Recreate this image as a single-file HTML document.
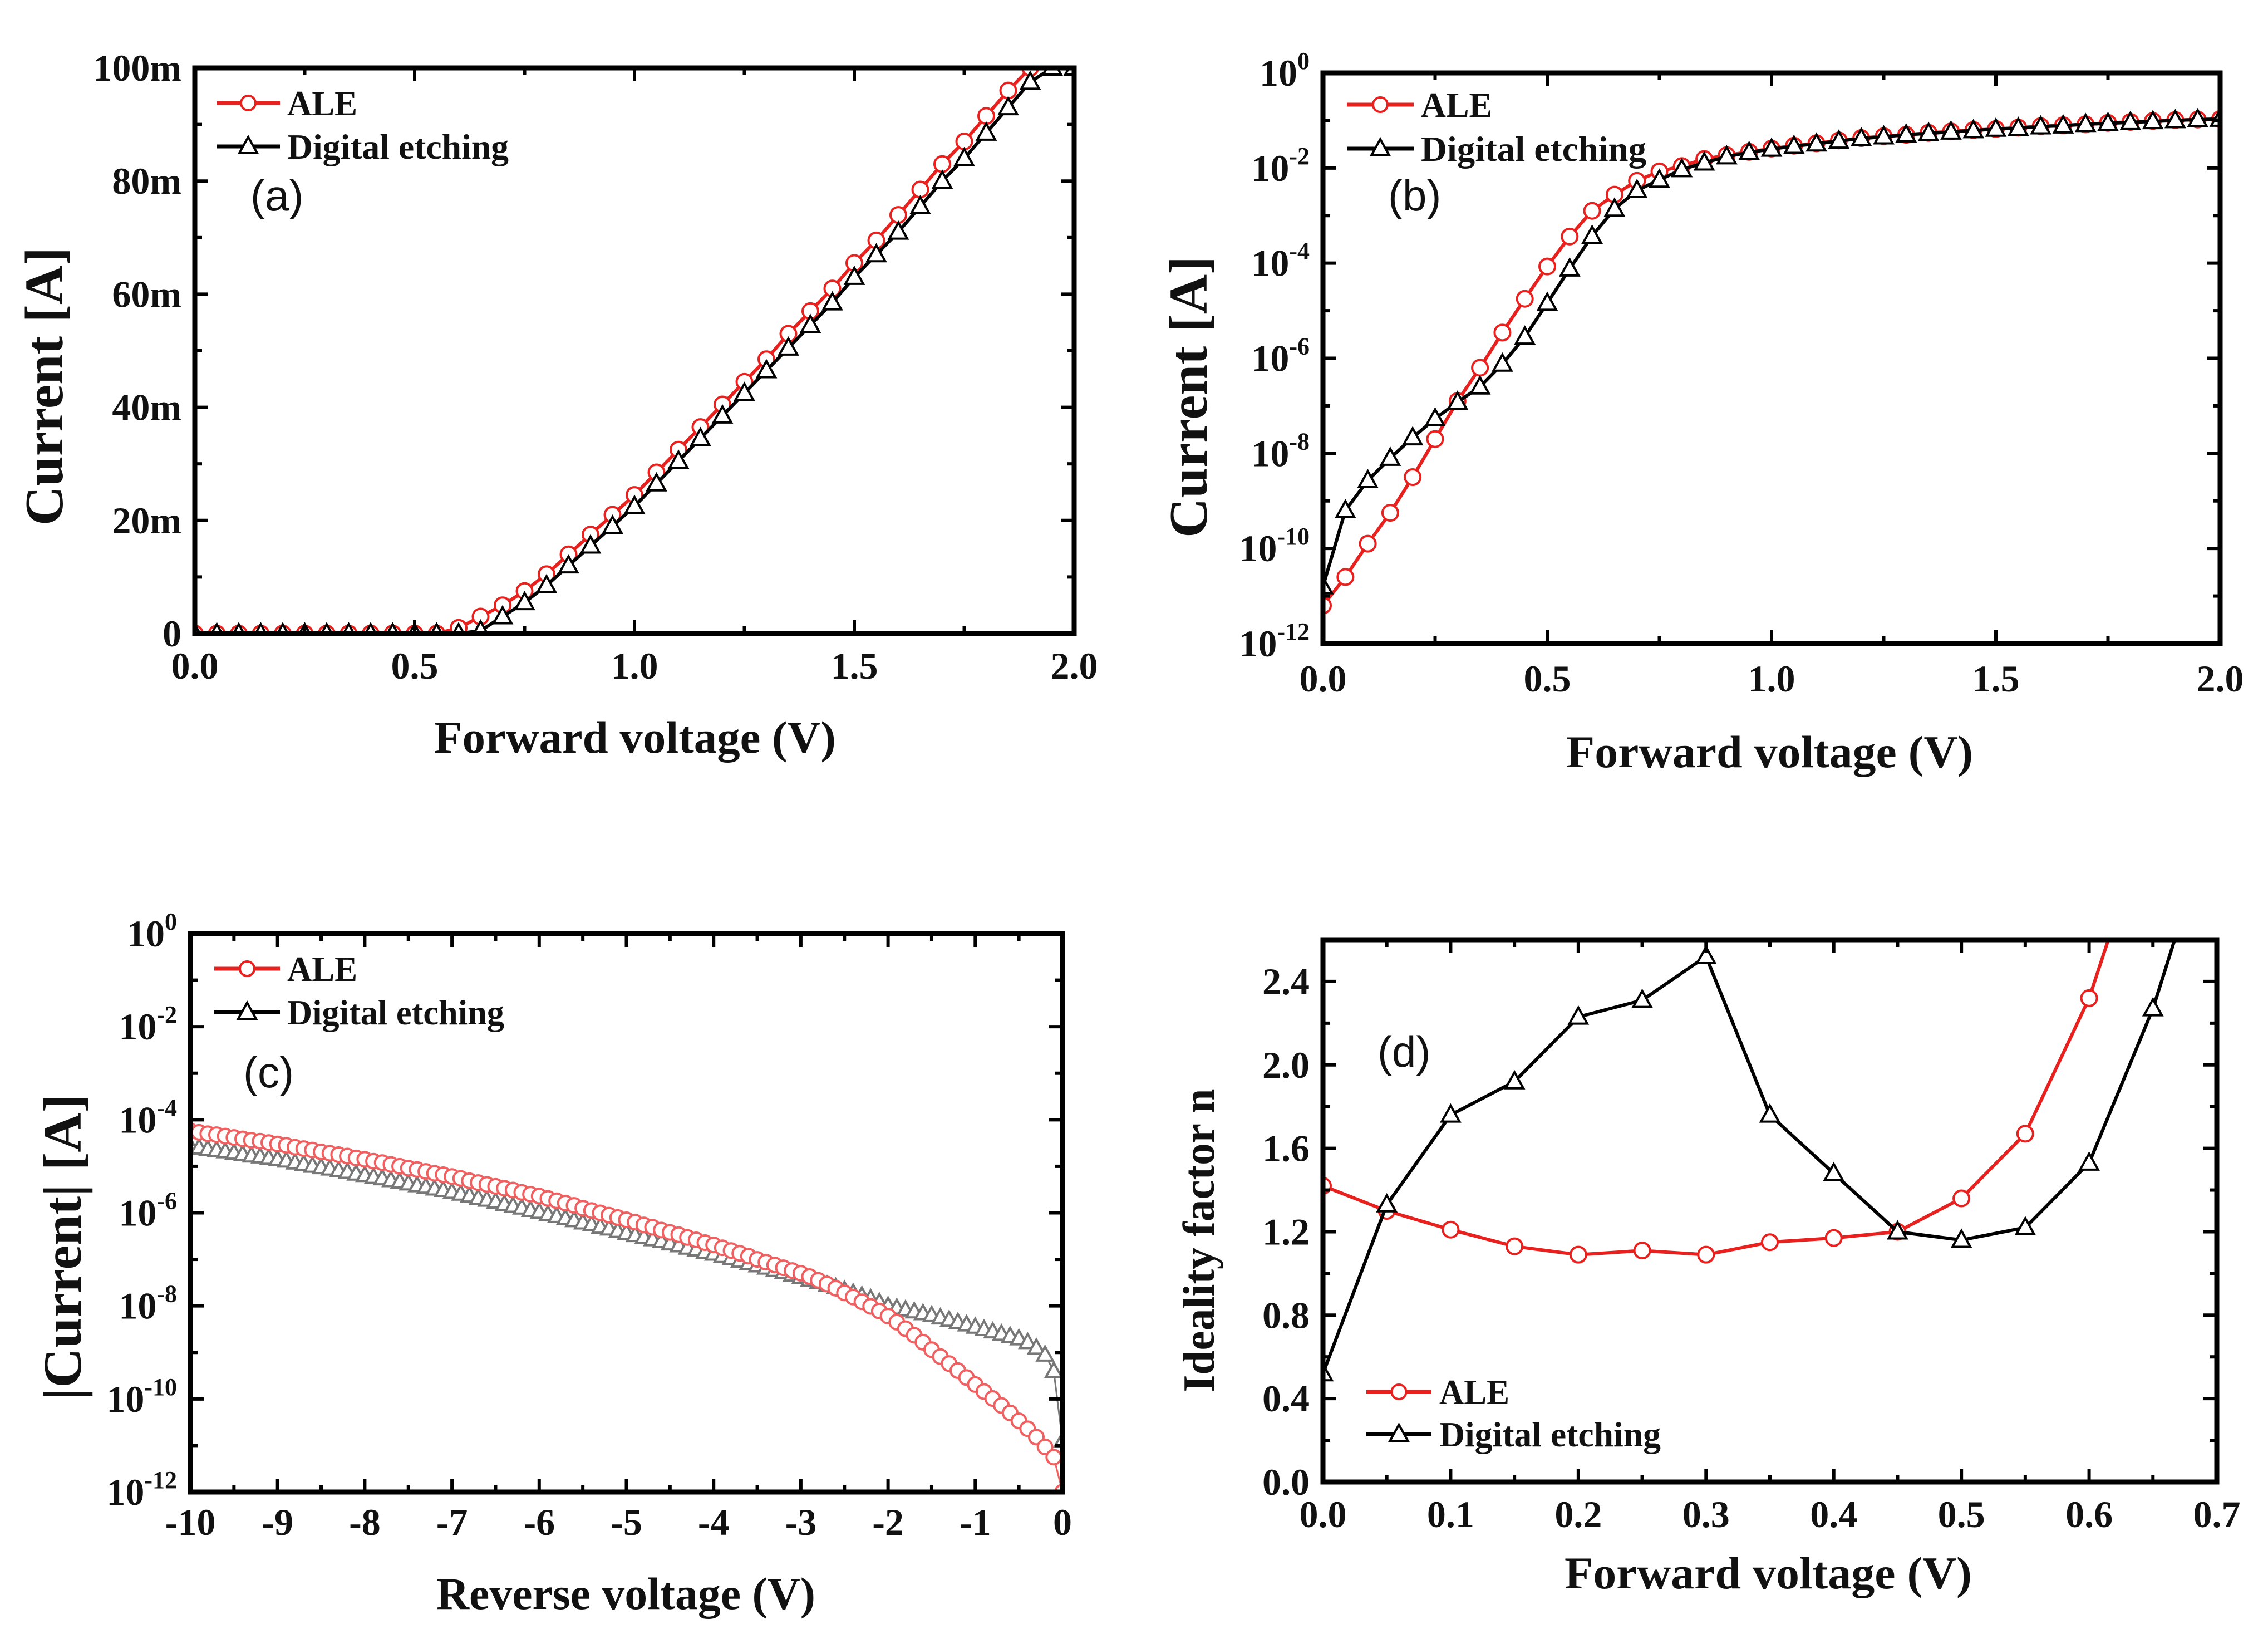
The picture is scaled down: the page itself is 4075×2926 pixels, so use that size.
<!DOCTYPE html>
<html><head><meta charset="utf-8"><title>IV characteristics</title>
<style>
html,body{margin:0;padding:0;background:#fff;}
svg{display:block;}
text{font-family:"Liberation Serif",serif;font-weight:bold;fill:#111;}
.lab{font-family:"Liberation Sans",sans-serif;font-weight:normal;}
</style></head>
<body>
<svg id="fig" xmlns="http://www.w3.org/2000/svg" width="4075" height="2926" viewBox="0 0 4075 2926">
<rect x="0" y="0" width="4075" height="2926" fill="#fff"/>
</svg>
<script>
// ---------- Panel (a): linear forward current (mA) ----------
const aVoltage = [0,0.05,0.1,0.15,0.2,0.25,0.3,0.35,0.4,0.45,0.5,0.55,0.6,0.65,0.7,0.75,0.8,0.85,0.9,0.95,1.0,1.05,1.1,1.15,1.2,1.25,1.3,1.35,1.4,1.45,1.5,1.55,1.6,1.65,1.7,1.75,1.8,1.85,1.9,1.95,2.0];
const aAleCurrent = [0,0,0,0,0,0,0,0,0,0,0,0,1,3,5,7.5,10.5,14,17.5,21,24.5,28.5,32.5,36.5,40.5,44.5,48.5,53,57,61,65.5,69.5,74,78.5,83,87,91.5,96,100,104,108];
const aDeCurrent = [0,0,0,0,0,0,0,0,0,0,0,0,0,0.5,3,5.5,8.5,12,15.5,19,22.5,26.5,30.5,34.5,38.5,42.5,46.5,50.5,54.5,58.5,63,67,71,75.5,80,84,88.5,93,97.5,100,100];
const aXTicks = [0,0.5,1.0,1.5,2.0];
const aXTickLabels = ["0.0","0.5","1.0","1.5","2.0"];
const aYTicks = [0,20,40,60,80,100];
const aYTickLabels = ["0","20m","40m","60m","80m","100m"];

// ---------- Panel (b): log forward current (log10 A) ----------
const bVoltage = aVoltage.slice();
const bAleLogI = [-11.2,-10.6,-9.9,-9.25,-8.5,-7.7,-6.9,-6.2,-5.46,-4.75,-4.07,-3.44,-2.9,-2.56,-2.27,-2.07,-1.96,-1.81,-1.73,-1.66,-1.59,-1.53,-1.48,-1.42,-1.37,-1.33,-1.30,-1.26,-1.23,-1.20,-1.18,-1.15,-1.12,-1.10,-1.08,-1.05,-1.03,-1.01,-0.99,-0.98,-0.97];
const bDeLogI = [-10.8,-9.2,-8.57,-8.1,-7.67,-7.27,-6.92,-6.6,-6.12,-5.55,-4.84,-4.12,-3.43,-2.86,-2.47,-2.25,-2.03,-1.89,-1.76,-1.67,-1.60,-1.54,-1.49,-1.43,-1.38,-1.34,-1.30,-1.27,-1.24,-1.21,-1.18,-1.16,-1.13,-1.11,-1.08,-1.06,-1.04,-1.02,-1.00,-0.98,-0.97];
const bXTicks = [0,0.5,1.0,1.5,2.0];
const bXTickLabels = ["0.0","0.5","1.0","1.5","2.0"];
const logYTicks = [0,-2,-4,-6,-8,-10,-12];
const logYExp = ["0","-2","-4","-6","-8","-10","-12"];

// ---------- Panel (c): reverse |current| (log10 A) ----------
const cVoltage = [-10,-9.9,-9.8,-9.7,-9.6,-9.5,-9.4,-9.3,-9.2,-9.1,-9,-8.9,-8.8,-8.7,-8.6,-8.5,-8.4,-8.3,-8.2,-8.1,-8,-7.9,-7.8,-7.7,-7.6,-7.5,-7.4,-7.3,-7.2,-7.1,-7,-6.9,-6.8,-6.7,-6.6,-6.5,-6.4,-6.3,-6.2,-6.1,-6,-5.9,-5.8,-5.7,-5.6,-5.5,-5.4,-5.3,-5.2,-5.1,-5,-4.9,-4.8,-4.7,-4.6,-4.5,-4.4,-4.3,-4.2,-4.1,-4,-3.9,-3.8,-3.7,-3.6,-3.5,-3.4,-3.3,-3.2,-3.1,-3,-2.9,-2.8,-2.7,-2.6,-2.5,-2.4,-2.3,-2.2,-2.1,-2,-1.9,-1.8,-1.7,-1.6,-1.5,-1.4,-1.3,-1.2,-1.1,-1,-0.9,-0.8,-0.7,-0.6,-0.5,-0.4,-0.3,-0.2,-0.1,0];
const cAleLogI = [-4.24,-4.27,-4.30,-4.32,-4.35,-4.38,-4.41,-4.44,-4.46,-4.49,
-4.52,-4.55,-4.59,-4.62,-4.65,-4.69,-4.72,-4.75,-4.78,-4.82,
-4.85,-4.89,-4.92,-4.96,-5.00,-5.04,-5.07,-5.11,-5.15,-5.18,
-5.22,-5.26,-5.31,-5.35,-5.39,-5.43,-5.47,-5.51,-5.56,-5.60,
-5.64,-5.69,-5.74,-5.79,-5.84,-5.90,-5.95,-6.00,-6.05,-6.10,
-6.15,-6.20,-6.26,-6.31,-6.37,-6.42,-6.47,-6.53,-6.58,-6.64,
-6.69,-6.75,-6.81,-6.87,-6.93,-7.00,-7.06,-7.12,-7.18,-7.24,
-7.30,-7.37,-7.45,-7.53,-7.62,-7.72,-7.81,-7.91,-8.01,-8.11,
-8.22,-8.35,-8.49,-8.63,-8.78,-8.94,-9.09,-9.24,-9.39,-9.54,
-9.69,-9.84,-9.99,-10.14,-10.30,-10.47,-10.64,-10.82,-11.03,-11.25,
-12.0];
const cDeLogI = [-4.57,-4.60,-4.63,-4.65,-4.68,-4.71,-4.74,-4.77,-4.79,-4.82,
-4.85,-4.88,-4.92,-4.95,-4.99,-5.02,-5.05,-5.09,-5.12,-5.16,
-5.19,-5.23,-5.26,-5.30,-5.33,-5.37,-5.41,-5.44,-5.48,-5.51,
-5.55,-5.59,-5.63,-5.68,-5.72,-5.76,-5.81,-5.85,-5.89,-5.94,
-5.98,-6.03,-6.07,-6.12,-6.16,-6.21,-6.25,-6.30,-6.34,-6.39,
-6.43,-6.48,-6.52,-6.57,-6.61,-6.66,-6.70,-6.75,-6.79,-6.84,
-6.88,-6.93,-6.98,-7.03,-7.08,-7.13,-7.18,-7.23,-7.28,-7.33,
-7.38,-7.44,-7.49,-7.55,-7.60,-7.66,-7.72,-7.78,-7.84,-7.92,
-8.00,-8.04,-8.08,-8.12,-8.16,-8.20,-8.25,-8.30,-8.35,-8.40,
-8.45,-8.50,-8.55,-8.60,-8.65,-8.70,-8.78,-8.90,-9.05,-9.40,
-10.9];
const cXTicks = [-10,-9,-8,-7,-6,-5,-4,-3,-2,-1,0];
const cXTickLabels = ["-10","-9","-8","-7","-6","-5","-4","-3","-2","-1","0"];

// ---------- Panel (d): ideality factor ----------
const dVoltageAle = [0,0.05,0.1,0.15,0.2,0.25,0.3,0.35,0.4,0.45,0.5,0.55,0.6,0.65];
const dAleN = [1.42,1.30,1.21,1.13,1.09,1.11,1.09,1.15,1.17,1.20,1.36,1.67,2.32,3.25];
const dVoltageDe = [0,0.05,0.1,0.15,0.2,0.25,0.3,0.35,0.4,0.45,0.5,0.55,0.6,0.65,0.7];
const dDeN = [0.52,1.33,1.76,1.92,2.23,2.31,2.52,1.76,1.48,1.20,1.16,1.22,1.53,2.27,3.24];
const dXTicks = [0,0.1,0.2,0.3,0.4,0.5,0.6,0.7];
const dXTickLabels = ["0.0","0.1","0.2","0.3","0.4","0.5","0.6","0.7"];
const dYTicks = [0,0.4,0.8,1.2,1.6,2.0,2.4];
const dYTickLabels = ["0.0","0.4","0.8","1.2","1.6","2.0","2.4"];

const NS = "http://www.w3.org/2000/svg";
const svg = document.getElementById('fig');
function mk(tag, attrs, parent){
  const e = document.createElementNS(NS, tag);
  for (const k in attrs) e.setAttribute(k, attrs[k]);
  (parent||svg).appendChild(e);
  return e;
}
let clipId = 0;

function drawPanel(p){
  const g = mk('g', {});
  
  
  const sx = v => p.L + (v - p.xmin) / (p.xmax - p.xmin) * (p.R - p.L);
  const sy = v => p.B - (v - p.ymin) / (p.ymax - p.ymin) * (p.B - p.T);
  const cid = 'clip' + (clipId++);
  const defs = mk('defs', {}, g);
  const cp = mk('clipPath', {id: cid}, defs);
  mk('rect', {x: p.L, y: p.T, width: p.R - p.L, height: p.B - p.T}, cp);

  // series
  const plotG = mk('g', {'clip-path': 'url(#' + cid + ')'}, g);
  p.series.forEach(s => {
    const sg = mk('g', {}, plotG);
    
    
    const pts = s.x.map((xv, i) => sx(xv).toFixed(1) + ',' + sy(s.y[i]).toFixed(1)).join(' ');
    const ln = mk('polyline', {points: pts, fill: 'none', stroke: s.color, 'stroke-width': s.lw || 6, 'stroke-linejoin': 'round'}, sg);
    
    
    s.x.forEach((xv, i) => {
      const cx = sx(xv), cy = sy(s.y[i]);
      let m;
      if (s.marker === 'circle') {
        m = mk('circle', {cx: cx, cy: cy, r: s.ms || 14, fill: '#fff', stroke: s.mcolor || s.color, 'stroke-width': 4}, sg);
      } else {
        const h = s.ms || 16;
        m = mk('polygon', {points: (cx) + ',' + (cy - h*1.05) + ' ' + (cx - h) + ',' + (cy + h*0.75) + ' ' + (cx + h) + ',' + (cy + h*0.75), fill: '#fff', stroke: s.mcolor || s.color, 'stroke-width': 4}, sg);
      }
      
      
    });
  });

  // ticks
  const tg = mk('g', {stroke: '#000', 'stroke-width': 6}, g);
  
  
  const maj = 24, mnr = 13;
  p.xMajor.forEach(v => {
    const x = sx(v);
    mk('line', {x1: x, y1: p.B, x2: x, y2: p.B - maj}, tg);
    mk('line', {x1: x, y1: p.T, x2: x, y2: p.T + maj}, tg);
  });
  p.xMinor.forEach(v => {
    const x = sx(v);
    mk('line', {x1: x, y1: p.B, x2: x, y2: p.B - mnr}, tg);
    mk('line', {x1: x, y1: p.T, x2: x, y2: p.T + mnr}, tg);
  });
  p.yMajor.forEach(v => {
    const y = sy(v);
    mk('line', {x1: p.L, y1: y, x2: p.L + maj, y2: y}, tg);
    mk('line', {x1: p.R, y1: y, x2: p.R - maj, y2: y}, tg);
  });
  p.yMinor.forEach(v => {
    const y = sy(v);
    mk('line', {x1: p.L, y1: y, x2: p.L + mnr, y2: y}, tg);
    mk('line', {x1: p.R, y1: y, x2: p.R - mnr, y2: y}, tg);
  });

  // frame
  const fr = mk('rect', {x: p.L, y: p.T, width: p.R - p.L, height: p.B - p.T, fill: 'none', stroke: '#000', 'stroke-width': 9}, g);
  
  

  // x tick labels
  p.xLabTicks.forEach((v, i) => {
    const t = mk('text', {x: sx(v), y: p.xLabY, 'text-anchor': 'middle', 'font-size': 68}, g);
    t.textContent = p.xLabels[i];
    
    
  });
  // y tick labels
  p.yLabTicks.forEach((v, i) => {
    const t = mk('text', {x: p.L - 24, y: sy(v) + 23, 'text-anchor': 'end', 'font-size': 68}, g);
    if (p.logLabels) {
      t.textContent = '10';
      const sp = mk('tspan', {dy: -30, 'font-size': 44}, t);
      sp.textContent = p.yLabels[i];
    } else {
      t.textContent = p.yLabels[i];
    }
    
    
  });

  // axis titles
  const xt = mk('text', {x: p.xTitle.x, y: p.xTitle.y, 'font-size': 82, textLength: p.xTitle.len, lengthAdjust: 'spacingAndGlyphs'}, g);
  xt.textContent = p.xTitle.text;
  
  
  const yt = mk('text', {x: 0, y: 0, 'font-size': p.yTitle.fs, 'text-anchor': 'middle', textLength: p.yTitle.len, lengthAdjust: 'spacingAndGlyphs', transform: 'translate(' + p.yTitle.x + ',' + p.yTitle.y + ') rotate(-90)'}, g);
  yt.textContent = p.yTitle.text;
  
  

  // legend
  p.legend.forEach(le => {
    const lg = mk('g', {}, g);
    
    
    mk('line', {x1: le.x1, y1: le.y, x2: le.x2, y2: le.y, stroke: le.color, 'stroke-width': 7}, lg);
    const mx = (le.x1 + le.x2) / 2;
    if (le.marker === 'circle') mk('circle', {cx: mx, cy: le.y, r: 13, fill: '#fff', stroke: le.color, 'stroke-width': 4}, lg);
    else mk('polygon', {points: mx + ',' + (le.y - 17) + ' ' + (mx - 16) + ',' + (le.y + 12) + ' ' + (mx + 16) + ',' + (le.y + 12), fill: '#fff', stroke: le.color, 'stroke-width': 4}, lg);
    const t = mk('text', {x: le.tx, y: le.y + 22, 'font-size': 64, textLength: le.len, lengthAdjust: 'spacingAndGlyphs'}, lg);
    t.textContent = le.text;
  });
  // panel label
  const pl = mk('text', {x: p.tag.x, y: p.tag.y, 'font-size': 78, class: 'lab'}, g);
  pl.textContent = p.tag.text;
  
  
}

function range(a, b, st){ const r=[]; for(let v=a; v<=b+1e-9; v+=st) r.push(+v.toFixed(4)); return r; }

drawPanel({name:'panel-a', L:350, R:1930, T:122, B:1138, xmin:0, xmax:2, ymin:0, ymax:100,
  xMajor:aXTicks, xMinor:range(0.25,1.75,0.5), yMajor:aYTicks, yMinor:range(10,90,20),
  xLabTicks:aXTicks, xLabels:aXTickLabels, xLabY:1219, yLabTicks:aYTicks, yLabels:aYTickLabels,
  xTitle:{text:'Forward voltage (V)', x:780, y:1352, len:722},
  yTitle:{text:'Current [A]', x:112, y:694, len:500, fs:98},
  series:[
    {name:'ale-series', x:aVoltage, y:aAleCurrent, color:'#e8201e', marker:'circle'},
    {name:'digital-etching-series', x:aVoltage, y:aDeCurrent, color:'#000', marker:'tri'}],
  legend:[
    {x1:389, x2:503, y:185, tx:516, text:'ALE', len:126, color:'#e8201e', marker:'circle'},
    {x1:389, x2:503, y:263, tx:516, text:'Digital etching', len:398, color:'#000', marker:'tri'}],
  tag:{text:'(a)', x:450, y:378}
});

drawPanel({name:'panel-b', L:2377, R:3989, T:131, B:1156, xmin:0, xmax:2, ymin:-12, ymax:0,
  xMajor:bXTicks, xMinor:range(0.25,1.75,0.5), yMajor:logYTicks, yMinor:[-1,-3,-5,-7,-9,-11],
  xLabTicks:bXTicks, xLabels:bXTickLabels, xLabY:1242, yLabTicks:logYTicks, yLabels:logYExp, logLabels:true,
  xTitle:{text:'Forward voltage (V)', x:2814, y:1378, len:731},
  yTitle:{text:'Current [A]', x:2168, y:713, len:506, fs:98},
  series:[
    {name:'ale-series', x:bVoltage, y:bAleLogI, color:'#e8201e', marker:'circle'},
    {name:'digital-etching-series', x:bVoltage, y:bDeLogI, color:'#000', marker:'tri'}],
  legend:[
    {x1:2420, x2:2540, y:188, tx:2553, text:'ALE', len:128, color:'#e8201e', marker:'circle'},
    {x1:2420, x2:2540, y:267, tx:2553, text:'Digital etching', len:405, color:'#000', marker:'tri'}],
  tag:{text:'(b)', x:2494, y:378}
});

drawPanel({name:'panel-c', L:342, R:1909, T:1677, B:2680, xmin:-10, xmax:0, ymin:-12, ymax:0,
  xMajor:cXTicks, xMinor:range(-9.5,-0.5,1), yMajor:logYTicks, yMinor:[-1,-3,-5,-7,-9,-11],
  xLabTicks:cXTicks, xLabels:cXTickLabels, xLabY:2757, yLabTicks:logYTicks, yLabels:logYExp, logLabels:true,
  xTitle:{text:'Reverse voltage (V)', x:784, y:2890, len:681},
  yTitle:{text:'|Current| [A]', x:145, y:2240, len:549, fs:98},
  series:[
    {name:'digital-etching-series', x:cVoltage, y:cDeLogI, color:'#777', marker:'tri', lw:3, ms:14},
    {name:'ale-series', x:cVoltage, y:cAleLogI, color:'#f06060', marker:'circle', lw:3, ms:13}],
  legend:[
    {x1:385, x2:503, y:1740, tx:516, text:'ALE', len:126, color:'#e8201e', marker:'circle'},
    {x1:385, x2:503, y:1818, tx:516, text:'Digital etching', len:390, color:'#000', marker:'tri'}],
  tag:{text:'(c)', x:437, y:1953}
});

drawPanel({name:'panel-d', L:2377, R:3983, T:1688, B:2662, xmin:0, xmax:0.7, ymin:0, ymax:2.6,
  xMajor:dXTicks, xMinor:range(0.05,0.65,0.1), yMajor:dYTicks, yMinor:range(0.2,2.2,0.4),
  xLabTicks:dXTicks, xLabels:dXTickLabels, xLabY:2743, yLabTicks:dYTicks, yLabels:dYTickLabels,
  xTitle:{text:'Forward voltage (V)', x:2811, y:2853, len:732},
  yTitle:{text:'Ideality factor n', x:2181, y:2228, len:545, fs:80},
  series:[
    {name:'ale-series', x:dVoltageAle, y:dAleN, color:'#e8201e', marker:'circle'},
    {name:'digital-etching-series', x:dVoltageDe, y:dDeN, color:'#000', marker:'tri'}],
  legend:[
    {x1:2455, x2:2572, y:2500, tx:2586, text:'ALE', len:126, color:'#e8201e', marker:'circle'},
    {x1:2455, x2:2572, y:2576, tx:2586, text:'Digital etching', len:398, color:'#000', marker:'tri'}],
  tag:{text:'(d)', x:2475, y:1916}
});
</script>
</body></html>
